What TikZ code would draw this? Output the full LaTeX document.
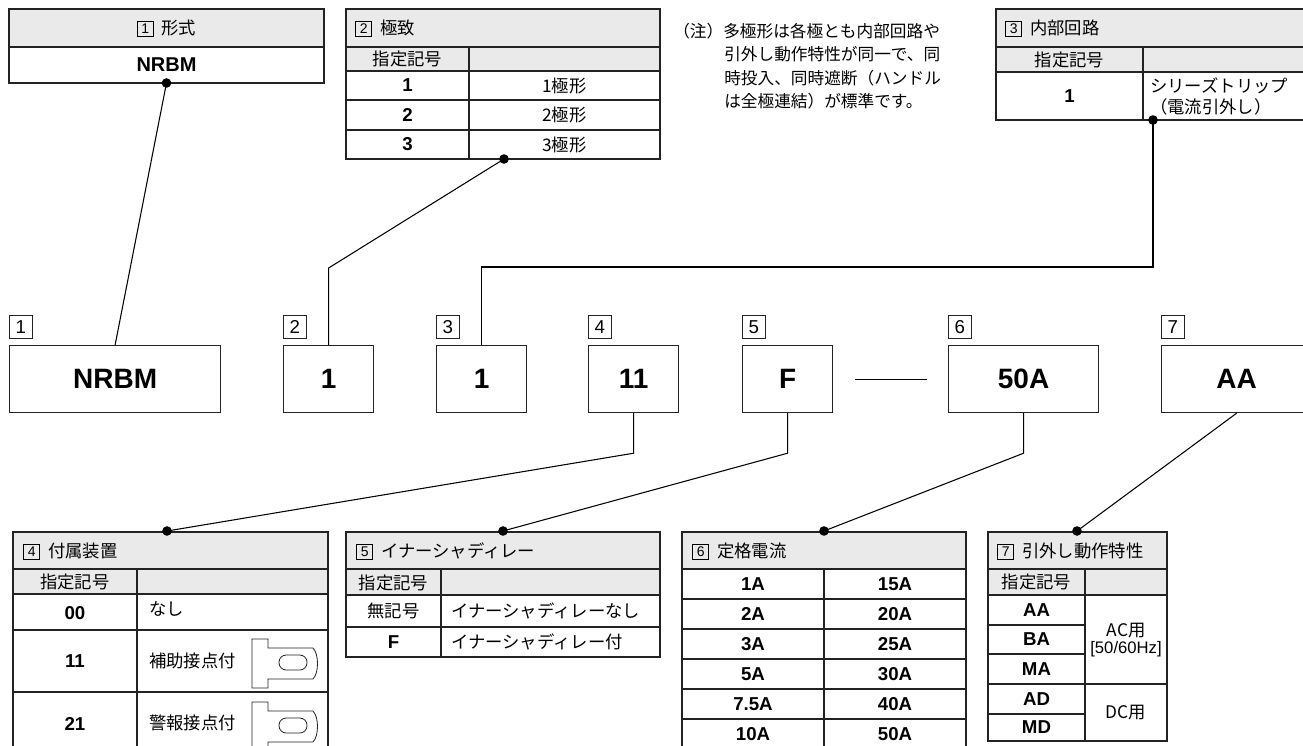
\documentclass[tikz,border=0pt]{standalone}
\usepackage{fontspec}
\setmainfont{Noto Sans CJK JP}
\newfontfamily\lat{Liberation Sans}
\definecolor{hdr}{RGB}{234,234,234}
\definecolor{ln}{RGB}{35,35,35}
\newcommand{\nb}[1]{\raisebox{0.8pt}{\setlength{\fboxsep}{0pt}\setlength{\fboxrule}{0.6pt}\fbox{\makebox[11.5pt]{\rule[-1.8pt]{0pt}{10.6pt}\lat\fontsize{10.5}{10.5}\selectfont #1}}}\hspace{6pt}}
\begin{document}
\begin{tikzpicture}[x=0.75pt,y=-0.75pt,
  cell/.style={draw=ln,line width=0.8pt},
  hcell/.style={cell,fill=hdr},
  jt/.style={inner sep=0pt,font=\fontsize{13}{15}\selectfont},
  jtl/.style={jt,anchor=west},
  bv/.style={inner sep=0pt,font=\lat\bfseries\fontsize{14}{16}\selectfont},
  bigbox/.style={draw=ln,line width=0.9pt,minimum height=50.25pt,anchor=north west,font=\lat\bfseries\fontsize{21}{24}\selectfont},
  lbl/.style={draw=ln,line width=0.6pt,inner sep=0pt,minimum width=17pt,minimum height=17.5pt,anchor=south west,font=\lat\fontsize{14}{14}\selectfont},
  conn/.style={draw=black,line width=0.8pt},
  icon/.style={draw=ln,line width=0.6pt},
  note/.style={inner sep=0pt,anchor=west,font=\fontsize{12.5}{14}\selectfont}
]
\useasboundingbox (0,0) rectangle (1303,746);
\fill[white] (0,0) rectangle (1303,746);
\clip (0,0) rectangle (1303,746);

% ---------- Table 1 ----------
\draw[hcell] (9,9) rectangle (324,47);
\draw[cell] (9,47) rectangle (324,83);
\node[jt] (t1h) at (166.5,28) {\nb{1}形式};
\node[bv,font=\lat\bfseries\fontsize{15}{17}\selectfont] (t1v) at (166.5,65) {NRBM};

% ---------- Table 2 ----------
\draw[hcell] (346,9) rectangle (660,47);
\draw[hcell] (346,47) rectangle (660,71);
\draw[cell] (346,71) rectangle (660,159);
\draw[cell] (469,47) -- (469,159);
\draw[cell] (346,100) -- (660,100) (346,130) -- (660,130);
\node[jtl] (t2h) at (355,28) {\nb{2}極致};
\node[jt] (t2s) at (407.5,59) {指定記号};
\node[bv] (t2a) at (407.5,85.5) {1};
\node[jt] (t2b) at (564.5,85.5) {1極形};
\node[bv] (t2c) at (407.5,115) {2};
\node[jt] (t2d) at (564.5,115) {2極形};
\node[bv] (t2e) at (407.5,144.5) {3};
\node[jt] (t2f) at (564.5,144.5) {3極形};

% ---------- Note ----------
\node[note] (n1) at (673,31) {（注）多極形は各極とも内部回路や};
\node[note] (n2) at (724,54.5) {引外し動作特性が同一で、同};
\node[note] (n3) at (724,78) {時投入、同時遮断（ハンドル};
\node[note] (n4) at (724,101.5) {は全極連結）が標準です。};

% ---------- Table 3 ----------
\draw[hcell] (996,9) rectangle (1320,47);
\draw[hcell] (996,47) rectangle (1320,72);
\draw[cell] (996,72) rectangle (1320,120);
\draw[cell] (1143,47) -- (1143,120);
\node[jtl] (t3h) at (1005,28) {\nb{3}内部回路};
\node[jt] (t3s) at (1069.5,59.5) {指定記号};
\node[bv] (t3a) at (1069.5,96) {1};
\node[jtl] (t3b) at (1150,86) {シリーズトリップ};
\node[jtl] (t3c) at (1150,107) {（電流引外し）};

% ---------- Big boxes ----------
\node[bigbox,minimum width=158.25pt] (b1) at (9,345) {NRBM};
\node[bigbox,minimum width=67.5pt] (b2) at (283,345) {1};
\node[bigbox,minimum width=67.5pt] (b3) at (436,345) {1};
\node[bigbox,minimum width=67.5pt] (b4) at (588,345) {11};
\node[bigbox,minimum width=67.5pt] (b5) at (742,345) {F};
\node[bigbox,minimum width=112.5pt] (b6) at (948,345) {50A};
\node[bigbox,minimum width=112.5pt] (b7) at (1161,345) {AA};
\node[lbl] (l1) at (9,339) {1};
\node[lbl] (l2) at (283,339) {2};
\node[lbl] (l3) at (436,339) {3};
\node[lbl] (l4) at (588,339) {4};
\node[lbl] (l5) at (742,339) {5};
\node[lbl] (l6) at (948,339) {6};
\node[lbl] (l7) at (1161,339) {7};
\draw[conn] ([xshift=16.5pt]b5.east) -- ([xshift=-15.75pt]b6.west);

% ---------- Table 4 ----------
\draw[hcell] (13,532) rectangle (328,569);
\draw[hcell] (13,569) rectangle (328,594);
\draw[cell] (13,594) rectangle (328,760);
\draw[cell] (137,569) -- (137,760);
\draw[cell] (13,630) -- (328,630) (13,692) -- (328,692);
\node[jtl] (t4h) at (23,551) {\nb{4}付属装置};
\node[jt] (t4s) at (75,582) {指定記号};
\node[bv] (t4a) at (75,613) {00};
\node[jtl] (t4b) at (149,609) {なし};
\node[bv] (t4c) at (75,661) {11};
\node[jtl] (t4d) at (149,661) {補助接点付};
\node[bv] (t4e) at (75,724) {21};
\node[jtl] (t4f) at (149,723) {警報接点付};
\foreach \oy in {639,702}{
  \begin{scope}[shift={(252,\oy)}]
    \draw[icon] (0,0) -- (16,0) -- (16,9) -- (61,9) .. controls (67,15) and (67,34) .. (61,40) -- (16,40) -- (16,49) -- (0,49) -- cycle;
    \draw[icon,rounded corners=5.4pt] (27,16) rectangle (55,31);
  \end{scope}
}

% ---------- Table 5 ----------
\draw[hcell] (346,532) rectangle (660,569);
\draw[hcell] (346,569) rectangle (660,595);
\draw[cell] (346,595) rectangle (660,657);
\draw[cell] (441,569) -- (441,657);
\draw[cell] (346,627) -- (660,627);
\node[jtl] (t5h) at (356,551) {\nb{5}イナーシャディレー};
\node[jt] (t5s) at (393.5,582.5) {指定記号};
\node[jt] (t5a) at (393.5,611) {無記号};
\node[jtl] (t5b) at (451,611) {イナーシャディレーなし};
\node[bv] (t5c) at (393.5,642) {F};
\node[jtl] (t5d) at (451,642) {イナーシャディレー付};

% ---------- Table 6 ----------
\draw[hcell] (682,532) rectangle (966,569);
\draw[cell] (682,569) rectangle (966,760);
\draw[cell] (824,569) -- (824,760);
\foreach \yy in {599,629,659,689,719}{\draw[cell] (682,\yy) -- (966,\yy);}
\node[jtl] (t6h) at (692,551) {\nb{6}定格電流};
\node[bv] (t6a) at (753,584) {1A};   \node[bv] (t6b) at (895,584) {15A};
\node[bv] (t6c) at (753,614) {2A};   \node[bv] (t6d) at (895,614) {20A};
\node[bv] (t6e) at (753,644) {3A};   \node[bv] (t6f) at (895,644) {25A};
\node[bv] (t6g) at (753,674) {5A};   \node[bv] (t6h2) at (895,674) {30A};
\node[bv] (t6i) at (753,704) {7.5A}; \node[bv] (t6j) at (895,704) {40A};
\node[bv] (t6k) at (753,734) {10A};  \node[bv] (t6l) at (895,734) {50A};

% ---------- Table 7 ----------
\draw[hcell] (988,532) rectangle (1167,569);
\draw[hcell] (988,569) rectangle (1167,595);
\draw[cell] (988,595) rectangle (1167,741);
\draw[cell] (1085,569) -- (1085,741);
\draw[cell] (988,625) -- (1085,625) (988,654) -- (1085,654) (988,684) -- (1167,684) (988,714) -- (1085,714);
\node[jtl] (t7h) at (997,551) {\nb{7}引外し動作特性};
\node[jt] (t7s) at (1036.5,582) {指定記号};
\node[bv] (t7a) at (1036.5,610) {AA};
\node[bv] (t7b) at (1036.5,639.5) {BA};
\node[bv] (t7c) at (1036.5,669) {MA};
\node[bv] (t7d) at (1036.5,699) {AD};
\node[bv] (t7e) at (1036.5,727.5) {MD};
\node[jt] (t7f) at (1126,631) {AC用};
\node[inner sep=0pt,font=\lat\fontsize{12.5}{14}\selectfont] (t7g) at (1126,649) {[50/60Hz]};
\node[jt] (t7i) at (1126,712.5) {DC用};

% ---------- Connectors ----------
\coordinate (d1) at (166.5,83);
\coordinate (d2) at (504,159);
\coordinate (d3) at (1153,120);
\coordinate (d4) at (167,531);
\coordinate (d5) at (503,531);
\coordinate (d6) at (824,531);
\coordinate (d7) at (1077,531);
\coordinate (k2) at (328,268);
\coordinate (k3) at (1153,267);

\draw[conn] (d1) -- (b1.north);
\draw[conn] (d2) -- (k2 -| b2.north) -- (b2.north);
\draw[conn] (d3) -- (k3) -- (k3 -| b3.north) -- (b3.north);
\draw[conn] (b4.south) -- ++(0,40) -- (d4);
\draw[conn] (b5.south) -- ++(0,40) -- (d5);
\draw[conn] (b6.south) -- ++(0,40) -- (d6);
\draw[conn] (b7.south) -- (d7);
\foreach \d in {d1,d2,d3,d4,d5,d6,d7}{\fill (\d) circle (3.6pt);}
\end{tikzpicture}
\end{document}
